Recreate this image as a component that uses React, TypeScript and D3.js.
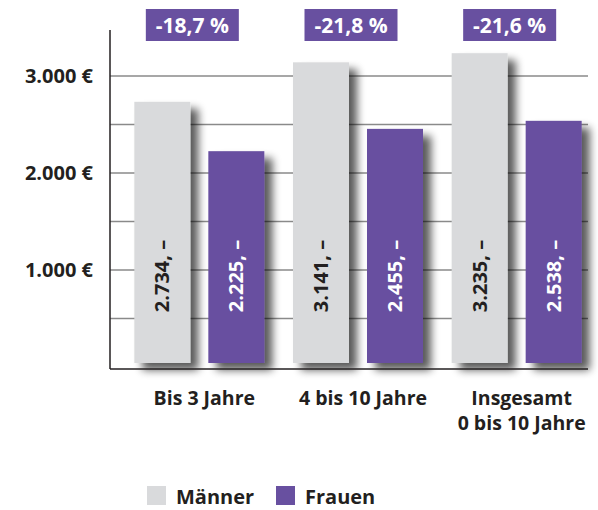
import React from "react";
import * as d3 from "d3";

const categories: string[][] = [["Bis 3 Jahre"], ["4 bis 10 Jahre"], ["Insgesamt", "0 bis 10 Jahre"]];
const seriesNames = ["Männer", "Frauen"];
const maenner = [2734, 3141, 3235];
const frauen = [2225, 2455, 2538];
const diffLabels = ["-18,7 %", "-21,8 %", "-21,6 %"];
const yTicks = [1000, 2000, 3000];
const gridValues = [500, 1000, 1500, 2000, 2500, 3000];

const W = 598;
const H = 510;
const GRAY = "#d9dadc";
const PURPLE = "#6850a0";
const DARK = "#231f20";
const FONT = "'Open Sans', Lato, sans-serif";

const de = d3.formatLocale({ decimal: ",", thousands: ".", grouping: [3], currency: ["", " €"] });
const fmtInt = de.format(",d");

export default function App() {
  const y = d3.scaleLinear().domain([0, 3500]).range([367, 27.5]);
  const x0 = d3.scaleBand<number>().domain(categories.map((_, i) => i)).range([120, 596]);
  const groupW = 130;
  const x1 = d3.scaleBand<string>().domain(seriesNames).range([0, groupW]).paddingInner(18 / 74);
  const axisX = 110;
  const baseY = y(0) + 2;
  const barBottom = y(0) - 4;
  const series = [maenner, frauen];
  const colors = [GRAY, PURPLE];
  const textColors = [DARK, "#ffffff"];

  return (
    <svg width={W} height={H} style={{ position: "absolute", left: 0, top: 0, background: "#fff" }} fontFamily={FONT}>
      <defs>
        <filter id="shadow" x="-30%" y="-30%" width="180%" height="180%">
          <feGaussianBlur in="SourceAlpha" stdDeviation="4.5" />
          <feOffset dx="8" dy="7" result="off" />
          <feComponentTransfer>
            <feFuncA type="linear" slope="0.65" />
          </feComponentTransfer>
          <feMerge>
            <feMergeNode />
            <feMergeNode in="SourceGraphic" />
          </feMerge>
        </filter>
      </defs>

      {gridValues.map((v) => (
        <line key={v} x1={axisX} x2={588} y1={y(v)} y2={y(v)} stroke="#8a8a8a" strokeWidth={1.5} />
      ))}

      {categories.map((_, ci) => {
        const gx = (x0(ci) as number) + (x0.bandwidth() - groupW) / 2;
        return (
          <g key={ci}>
            {series.map((s, si) => {
              const bx = gx + (x1(seriesNames[si]) as number);
              const bw = x1.bandwidth();
              return (
                <rect key={si} x={bx} y={y(s[ci])} width={bw} height={barBottom - y(s[ci])} fill={colors[si]} filter="url(#shadow)" />
              );
            })}
          </g>
        );
      })}

      {categories.map((_, ci) => {
        const gx = (x0(ci) as number) + (x0.bandwidth() - groupW) / 2;
        return (
          <g key={ci}>
            {series.map((s, si) => {
              const cx = gx + (x1(seriesNames[si]) as number) + x1.bandwidth() / 2;
              const cy = 276;
              return (
                <text key={si} transform={`translate(${cx + 7},${cy}) rotate(-90)`} textAnchor="middle" fontSize={20} fontWeight={700} fill={textColors[si]}>
                  {fmtInt(s[ci]) + ", –"}
                </text>
              );
            })}
          </g>
        );
      })}

      <line x1={axisX} x2={axisX} y1={30} y2={baseY} stroke={DARK} strokeWidth={1.5} />
      <line x1={axisX} x2={588} y1={baseY} y2={baseY} stroke={DARK} strokeWidth={1.5} />

      {yTicks.map((v) => (
        <text key={v} x={93} y={y(v) + 2} textAnchor="end" dominantBaseline="middle" fontSize={20} fontWeight={700} fill={DARK}>
          {fmtInt(v) + " €"}
        </text>
      ))}

      {categories.map((_, ci) => {
        const c = (x0(ci) as number) + x0.bandwidth() / 2 - 7;
        return (
          <g key={ci}>
            <rect x={c - 46.5} y={9} width={93} height={32} fill={PURPLE} />
            <text x={c} y={33} textAnchor="middle" fontSize={21} fontWeight={700} fill="#fff">
              {diffLabels[ci]}
            </text>
          </g>
        );
      })}

      {categories.map((lines, ci) => {
        const c = (x0(ci) as number) + x0.bandwidth() / 2 + 5;
        return (
          <g key={ci}>
            {lines.map((l, li) => (
              <text key={li} x={c} y={405 + li * 25} textAnchor="middle" fontSize={19.5} fontWeight={700} fill={DARK}>
                {l}
              </text>
            ))}
          </g>
        );
      })}

      {seriesNames.map((n, si) => {
        const lx = si === 0 ? 147 : 276;
        return (
          <g key={n}>
            <rect x={lx} y={486} width={19} height={19} fill={colors[si]} />
            <text x={lx + 29} y={504} fontSize={20} fontWeight={700} fill={DARK}>
              {n}
            </text>
          </g>
        );
      })}
    </svg>
  );
}
